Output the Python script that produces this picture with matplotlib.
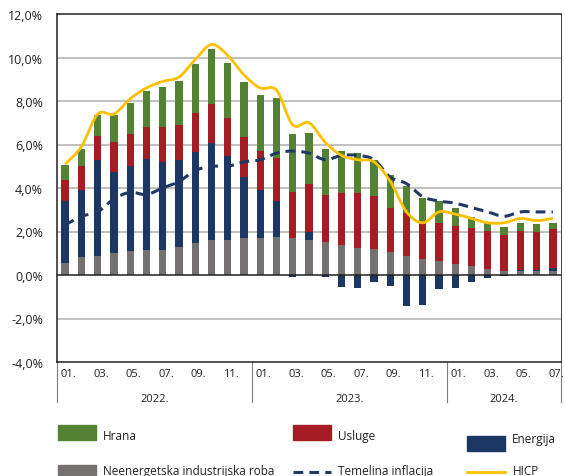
import matplotlib
matplotlib.use("Agg")
import matplotlib.pyplot as plt
from matplotlib.path import Path
from matplotlib.patches import PathPatch, Rectangle
from matplotlib.lines import Line2D
import numpy as np

plt.rcParams['font.family'] = ['Open Sans', 'DejaVu Sans']

# doprinosi (postotni bodovi), 2022.01 - 2024.07
months = ["01.", "02.", "03.", "04.", "05.", "06.", "07.", "08.", "09.", "10.", "11.", "12."] * 2 + \
         ["01.", "02.", "03.", "04.", "05.", "06.", "07."]
years = ["2022.", "2023.", "2024."]
year_groups = [(0, 11), (12, 23), (24, 30)]

roba = [0.55, 0.83, 0.88, 1.02, 1.12, 1.15, 1.15, 1.30, 1.48, 1.62, 1.62, 1.71,
        1.71, 1.76, 1.71, 1.62, 1.53, 1.39, 1.25, 1.20, 1.06, 0.88, 0.74, 0.65,
        0.51, 0.42, 0.28, 0.19, 0.18, 0.18, 0.18]
energija = [2.83, 3.10, 4.39, 3.73, 3.88, 4.18, 4.03, 3.98, 4.17, 4.44, 3.84, 2.78,
            2.19, 1.62, -0.07, 0.38, -0.10, -0.55, -0.60, -0.32, -0.50, -1.43, -1.39, -0.65,
            -0.60, -0.32, -0.14, -0.05, 0.05, 0.05, 0.14]
usluge = [0.97, 1.07, 1.13, 1.35, 1.48, 1.47, 1.62, 1.62, 1.80, 1.81, 1.76, 1.84,
          1.80, 2.02, 2.09, 2.20, 2.13, 2.36, 2.50, 2.41, 2.04, 1.99, 1.67, 1.76,
          1.76, 1.76, 1.76, 1.66, 1.81, 1.77, 1.81]
hrana = [0.70, 0.80, 0.96, 1.26, 1.42, 1.67, 1.86, 2.04, 2.25, 2.50, 2.55, 2.55,
         2.59, 2.75, 2.70, 2.33, 2.13, 1.94, 1.85, 1.67, 1.48, 1.20, 1.11, 0.97,
         0.83, 0.50, 0.37, 0.37, 0.37, 0.36, 0.28]
hicp = [5.1, 5.9, 7.4, 7.4, 8.1, 8.6, 8.9, 9.1, 9.9, 10.6, 10.1, 9.2,
        8.6, 8.5, 6.9, 7.0, 6.1, 5.5, 5.3, 5.2, 4.3, 2.9, 2.4, 2.9,
        2.8, 2.6, 2.4, 2.4, 2.6, 2.5, 2.6]
temeljna = [2.3, 2.7, 2.9, 3.5, 3.8, 3.7, 4.0, 4.3, 4.8, 5.0, 5.0, 5.2,
            5.3, 5.6, 5.7, 5.6, 5.3, 5.5, 5.5, 5.3, 4.5, 4.2, 3.6, 3.4,
            3.3, 3.1, 2.9, 2.7, 2.9, 2.9, 2.9]

c_green = "#548235"
c_red = "#a51c24"
c_blue = "#1c3764"
c_gray = "#767171"
c_yellow = "#ffc000"
c_navy = "#1f3864"


def smooth_path(x, y):
    # catmull-rom -> bezier, kao "smoothed line" u Excelu
    pts = np.column_stack([x, y])
    verts = [pts[0]]
    codes = [Path.MOVETO]
    n = len(pts)
    for i in range(n - 1):
        p0 = pts[max(i - 1, 0)]
        p1 = pts[i]
        p2 = pts[i + 1]
        p3 = pts[min(i + 2, n - 1)]
        verts += [p1 + (p2 - p0) / 6, p2 - (p3 - p1) / 6, p2]
        codes += [Path.CURVE4] * 3
    return Path(verts, codes)


fig = plt.figure(figsize=(5.65, 4.77), dpi=100)
ax = fig.add_axes([57 / 565, 114 / 477, 504 / 565, 348 / 477])

x = np.arange(len(months))
w = 0.45

pos_bottom = np.zeros(len(x))
neg_bottom = np.zeros(len(x))
for vals, col in [(roba, c_gray), (energija, c_blue), (usluge, c_red), (hrana, c_green)]:
    v = np.array(vals)
    bottom = np.where(v >= 0, pos_bottom, neg_bottom)
    ax.bar(x, v, w, bottom=bottom, color=col, zorder=2, linewidth=0)
    pos_bottom = pos_bottom + np.where(v >= 0, v, 0)
    neg_bottom = neg_bottom + np.where(v < 0, v, 0)

ax.add_patch(PathPatch(smooth_path(x, temeljna), fill=False, edgecolor=c_navy, lw=2.2,
                       linestyle=(0, (3.2, 2.0)), zorder=3, capstyle='butt'))
ax.add_patch(PathPatch(smooth_path(x, hicp), fill=False, edgecolor=c_yellow, lw=2.0, zorder=4))

ax.set_xlim(-0.5, 30.5)
ax.set_ylim(-4, 12)
yt = np.arange(-4, 13, 2)
ax.set_yticks(yt)
ax.set_yticklabels([f"{v:.1f}%".replace(".", ",") for v in yt], fontsize=9, color="#231f20")
ax.tick_params(axis='y', length=0, pad=10)
for v in yt:
    if v in (-4, 0, 12):
        continue
    ax.axhline(v, color="#b5b5b5", lw=1.2, zorder=1)
ax.axhline(0, color="#231f20", lw=1.1, zorder=5)

for s in ax.spines.values():
    s.set_color("#231f20")
    s.set_linewidth(1.1)
ax.spines['right'].set_linewidth(0.6)

ax.set_xticks(x[::2])
ax.set_xticklabels([])
ax.tick_params(axis='x', length=0)
trans = ax.get_xaxis_transform()
for i in x[::2]:
    ax.text(i + 0.2, -0.034, months[i], transform=trans, ha='center', va='center',
            fontsize=8, color="#231f20")
for (a, b), yr in zip(year_groups, years):
    ax.text((a + b) / 2, -0.105, yr, transform=trans, ha='center', va='center',
            fontsize=8, color="#231f20")
for sep in [-0.5, 11.5, 23.5, 30.5]:
    ax.plot([sep, sep], [0, -0.115], transform=trans, color="#7f7f7f", lw=0.8,
            clip_on=False)

# legenda
def fy(py):
    return 1 - py / 477

def fx(px):
    return px / 565

leg_patches = [("Hrana", c_green, 58, 426, 437), ("Usluge", c_red, 293, 426, 437),
               ("Energija", c_blue, 467, 437, 439),
               ("Neenergetska industrijska roba", c_gray, 58, 466, 472)]
for name, col, px, top, ty in leg_patches:
    fig.patches.append(Rectangle((fx(px), fy(top + 15)), fx(38), 15 / 477, color=col,
                                 transform=fig.transFigure, figure=fig))
    fig.text(fx(px + 45), fy(ty), name, fontsize=8.5, va='center', color="#231f20")

fig.lines.append(Line2D([fx(293), fx(331)], [fy(473), fy(473)], color=c_navy, lw=2.2,
                        linestyle=(0, (3.2, 2.0)), transform=fig.transFigure))
fig.text(fx(338), fy(472), "Temelina inflacija", fontsize=8.5, va='center', color="#231f20")
fig.lines.append(Line2D([fx(467), fx(505)], [fy(473), fy(473)], color=c_yellow, lw=2.0,
                        transform=fig.transFigure))
fig.text(fx(513), fy(472), "HICP", fontsize=8.5, va='center', color="#231f20")

fig.savefig("out.png", dpi=100)
